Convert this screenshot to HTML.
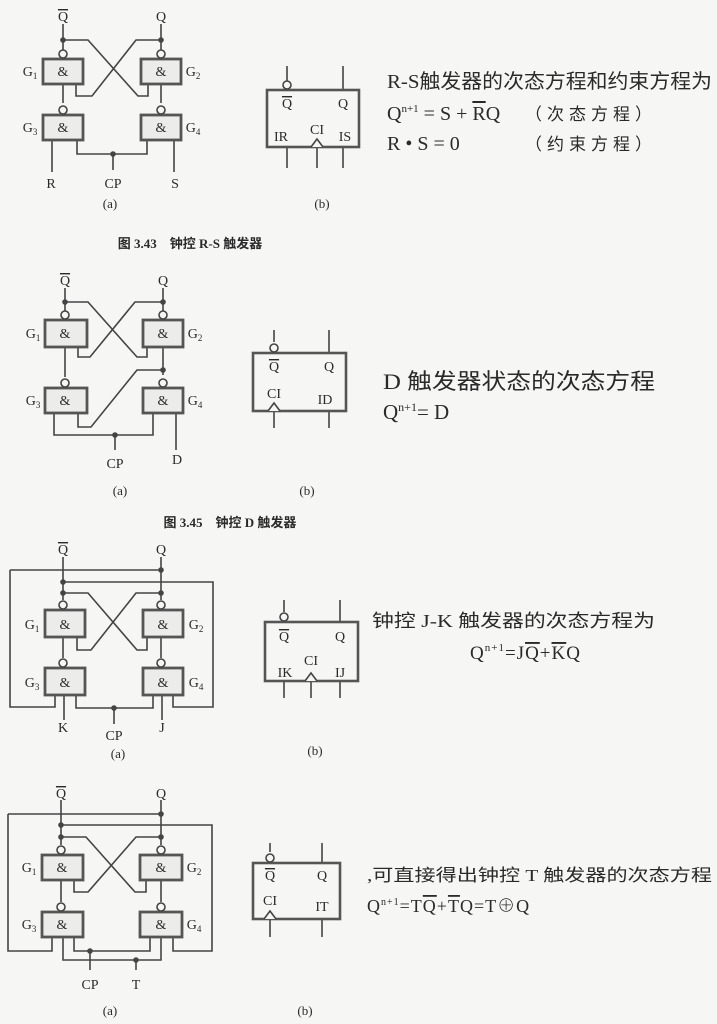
<!DOCTYPE html>
<html><head><meta charset="utf-8"><style>
html,body{margin:0;padding:0;background:#f6f6f4;}
svg{display:block}
text{font-family:"Liberation Serif","Noto Serif CJK SC",serif;fill:#2a2a2a}
.cj{font-family:"Liberation Serif","Noto Sans CJK SC",sans-serif;fill:#2a2a2a}
.ob{text-decoration:overline}
</style></head><body>
<svg width="717" height="1024" viewBox="0 0 717 1024" xmlns="http://www.w3.org/2000/svg">
<g fill="none" stroke="#444" stroke-width="1.6">
<path d="M63 24V53M161 24V53"/>
<path d="M63 40H88L138 96H148V84M76 84V96H92L136 40H161"/>
<path d="M63 84V103M161 84V103"/>
<path d="M52 140V172M77 140V154H147V140M113 154V170M174 140V172"/>
<path d="M287 66V81M343 66V90M287 147V168M317 147V168M343 147V168"/>
<path d="M65 288V313M163 288V313"/>
<path d="M65 302H88L137 357H147V347M78 347V357H90L135 302H163"/>
<path d="M65 347V377M163 347V375"/>
<path d="M163 370H137L91 427H78V413"/>
<path d="M54 413V435H153V413M115 435V450M176 413V450"/>
<path d="M274 330V342M329 330V353M274 411V428M329 411V428"/>
<path d="M63 557V600M161 557V600"/>
<path d="M10 570H161M63 582H213V707H173V695M10 570V707H55V695"/>
<path d="M63 593H88L137 650H147V637M77 637V650H91L136 593H161"/>
<path d="M63 637V658M161 637V658"/>
<path d="M64 695V720M76 695V708H153V695M114 708V724M162 695V720"/>
<path d="M284 600V612M340 600V622M284 681V698M311 681V698M340 681V698"/>
<path d="M61 800V845M161 800V845"/>
<path d="M8 814H161M61 825H212V951H173V937M8 814V951H52V937"/>
<path d="M61 837H86L135 892H146V880M74 880V892H88L136 837H161"/>
<path d="M61 880V902M161 880V902"/>
<path d="M74 937V951H150V937M63 937V960H161V937M90 951V970M136 960V970"/>
<path d="M270 843V852M322 843V863M270 919V937M322 919V937"/>
</g>
<g fill="#ececea" stroke="#555" stroke-width="2.8">
<rect x="43" y="59" width="40" height="25"/><rect x="141" y="59" width="40" height="25"/>
<rect x="43" y="115" width="40" height="25"/><rect x="141" y="115" width="40" height="25"/>
<rect x="45" y="320" width="42" height="27"/><rect x="143" y="320" width="40" height="27"/>
<rect x="45" y="388" width="42" height="25"/><rect x="143" y="388" width="40" height="25"/>
<rect x="45" y="610" width="40" height="27"/><rect x="143" y="610" width="40" height="27"/>
<rect x="45" y="668" width="40" height="27"/><rect x="143" y="668" width="40" height="27"/>
<rect x="42" y="855" width="41" height="25"/><rect x="140" y="855" width="42" height="25"/>
<rect x="42" y="912" width="41" height="25"/><rect x="140" y="912" width="42" height="25"/>
</g>
<g fill="none" stroke="#555" stroke-width="2.6">
<rect x="267" y="90" width="92" height="57"/>
<rect x="253" y="353" width="93" height="58"/>
<rect x="265" y="622" width="93" height="59"/>
<rect x="253" y="863" width="87" height="56"/>
</g>
<g fill="#f6f6f4" stroke="#444" stroke-width="1.6">
<circle cx="63" cy="54" r="4"/><circle cx="161" cy="54" r="4"/><circle cx="63" cy="110" r="4"/><circle cx="161" cy="110" r="4"/>
<circle cx="287" cy="85" r="4"/>
<circle cx="65" cy="315" r="4"/><circle cx="163" cy="315" r="4"/><circle cx="65" cy="383" r="4"/><circle cx="163" cy="383" r="4"/>
<circle cx="274" cy="348" r="4"/>
<circle cx="63" cy="605" r="4"/><circle cx="161" cy="605" r="4"/><circle cx="63" cy="663" r="4"/><circle cx="161" cy="663" r="4"/>
<circle cx="284" cy="617" r="4"/>
<circle cx="61" cy="850" r="4"/><circle cx="161" cy="850" r="4"/><circle cx="61" cy="907" r="4"/><circle cx="161" cy="907" r="4"/>
<circle cx="270" cy="858" r="4"/>
</g>
<g fill="#f6f6f4" stroke="#444" stroke-width="1.6">
<path d="M311 147L317 139L323 147"/><path d="M268 411L274 403L280 411"/>
<path d="M305 681L311 673L317 681"/><path d="M264 919L270 911L276 919"/>
</g>
<g fill="#444">
<circle cx="63" cy="40" r="2.8"/><circle cx="161" cy="40" r="2.8"/><circle cx="113" cy="154" r="2.8"/>
<circle cx="65" cy="302" r="2.8"/><circle cx="163" cy="302" r="2.8"/><circle cx="163" cy="370" r="2.8"/><circle cx="115" cy="435" r="2.8"/>
<circle cx="161" cy="570" r="2.8"/><circle cx="63" cy="582" r="2.8"/><circle cx="63" cy="593" r="2.8"/><circle cx="161" cy="593" r="2.8"/><circle cx="114" cy="708" r="2.8"/>
<circle cx="161" cy="814" r="2.8"/><circle cx="61" cy="825" r="2.8"/><circle cx="61" cy="837" r="2.8"/><circle cx="161" cy="837" r="2.8"/><circle cx="90" cy="951" r="2.8"/><circle cx="136" cy="960" r="2.8"/>
</g>
<g font-size="14" text-anchor="middle">
<text x="63" y="21" class="ob">Q</text><text x="161" y="21">Q</text>
<text x="30" y="76">G<tspan font-size="9" dy="3">1</tspan></text><text x="193" y="76">G<tspan font-size="9" dy="3">2</tspan></text>
<text x="30" y="132">G<tspan font-size="9" dy="3">3</tspan></text><text x="193" y="132">G<tspan font-size="9" dy="3">4</tspan></text>
<text x="63" y="76">&amp;</text><text x="161" y="76">&amp;</text><text x="63" y="132">&amp;</text><text x="161" y="132">&amp;</text>
<text x="51" y="188">R</text><text x="113" y="188">CP</text><text x="175" y="188">S</text>
<text x="110" y="208" font-size="13">(a)</text><text x="322" y="208" font-size="13">(b)</text>
<text x="287" y="108" class="ob">Q</text><text x="343" y="108">Q</text><text x="281" y="141">IR</text><text x="317" y="134">CI</text><text x="345" y="141">IS</text>
<text x="65" y="285" class="ob">Q</text><text x="163" y="285">Q</text>
<text x="33" y="338">G<tspan font-size="9" dy="3">1</tspan></text><text x="195" y="338">G<tspan font-size="9" dy="3">2</tspan></text>
<text x="33" y="405">G<tspan font-size="9" dy="3">3</tspan></text><text x="195" y="405">G<tspan font-size="9" dy="3">4</tspan></text>
<text x="65" y="338">&amp;</text><text x="163" y="338">&amp;</text><text x="65" y="405">&amp;</text><text x="163" y="405">&amp;</text>
<text x="115" y="468">CP</text><text x="177" y="464">D</text>
<text x="120" y="495" font-size="13">(a)</text><text x="307" y="495" font-size="13">(b)</text>
<text x="274" y="371" class="ob">Q</text><text x="329" y="371">Q</text><text x="274" y="398">CI</text><text x="325" y="404">ID</text>
<text x="63" y="554" class="ob">Q</text><text x="161" y="554">Q</text>
<text x="32" y="629">G<tspan font-size="9" dy="3">1</tspan></text><text x="196" y="629">G<tspan font-size="9" dy="3">2</tspan></text>
<text x="32" y="687">G<tspan font-size="9" dy="3">3</tspan></text><text x="196" y="687">G<tspan font-size="9" dy="3">4</tspan></text>
<text x="65" y="629">&amp;</text><text x="163" y="629">&amp;</text><text x="65" y="687">&amp;</text><text x="163" y="687">&amp;</text>
<text x="63" y="732">K</text><text x="114" y="740">CP</text><text x="162" y="732">J</text>
<text x="118" y="758" font-size="13">(a)</text><text x="315" y="755" font-size="13">(b)</text>
<text x="284" y="641" class="ob">Q</text><text x="340" y="641">Q</text><text x="285" y="677">IK</text><text x="311" y="665">CI</text><text x="340" y="677">IJ</text>
<text x="61" y="798" class="ob">Q</text><text x="161" y="798">Q</text>
<text x="29" y="872">G<tspan font-size="9" dy="3">1</tspan></text><text x="194" y="872">G<tspan font-size="9" dy="3">2</tspan></text>
<text x="29" y="929">G<tspan font-size="9" dy="3">3</tspan></text><text x="194" y="929">G<tspan font-size="9" dy="3">4</tspan></text>
<text x="62" y="872">&amp;</text><text x="161" y="872">&amp;</text><text x="62" y="929">&amp;</text><text x="161" y="929">&amp;</text>
<text x="90" y="989">CP</text><text x="136" y="989">T</text>
<text x="110" y="1015" font-size="13">(a)</text><text x="305" y="1015" font-size="13">(b)</text>
<text x="270" y="880" class="ob">Q</text><text x="322" y="880">Q</text><text x="270" y="905">CI</text><text x="322" y="911">IT</text>
</g>
<text class="cj" x="190" y="248" font-size="13" font-weight="bold" text-anchor="middle">图 3.43　钟控 R-S 触发器</text>
<text class="cj" x="230" y="527" font-size="13" font-weight="bold" text-anchor="middle">图 3.45　钟控 D 触发器</text>
<text class="cj" x="387" y="88" font-size="20" textLength="325" lengthAdjust="spacingAndGlyphs">R-S触发器的次态方程和约束方程为</text>
<text x="387" y="120" font-size="20">Q<tspan font-size="11" dy="-8">n+1</tspan><tspan dy="8"> = S + </tspan><tspan class="ob">R</tspan>Q</text>
<text class="cj" x="525" y="120" font-size="17" letter-spacing="5">（次态方程）</text>
<text x="387" y="150" font-size="20">R • S = 0</text>
<text class="cj" x="525" y="150" font-size="17" letter-spacing="5">（约束方程）</text>
<text class="cj" x="383" y="389" font-size="22" textLength="272" lengthAdjust="spacingAndGlyphs">D 触发器状态的次态方程</text>
<text x="383" y="419" font-size="21">Q<tspan font-size="12" dy="-8">n+1</tspan><tspan dy="8">= D</tspan></text>
<text class="cj" x="372" y="627" font-size="18" textLength="283" lengthAdjust="spacingAndGlyphs">钟控 J-K 触发器的次态方程为</text>
<text x="470" y="659" font-size="19" letter-spacing="1">Q<tspan font-size="11" dy="-8">n+1</tspan><tspan dy="8">=J</tspan><tspan class="ob">Q</tspan>+<tspan class="ob">K</tspan>Q</text>
<text class="cj" x="367" y="881" font-size="17" textLength="345" lengthAdjust="spacingAndGlyphs">,可直接得出钟控 T 触发器的次态方程</text>
<text x="367" y="912" font-size="18" letter-spacing="1">Q<tspan font-size="10" dy="-7">n+1</tspan><tspan dy="7">=T</tspan><tspan class="ob">Q</tspan>+<tspan class="ob">T</tspan>Q=T⊕Q</text>
</svg>
</body></html>
